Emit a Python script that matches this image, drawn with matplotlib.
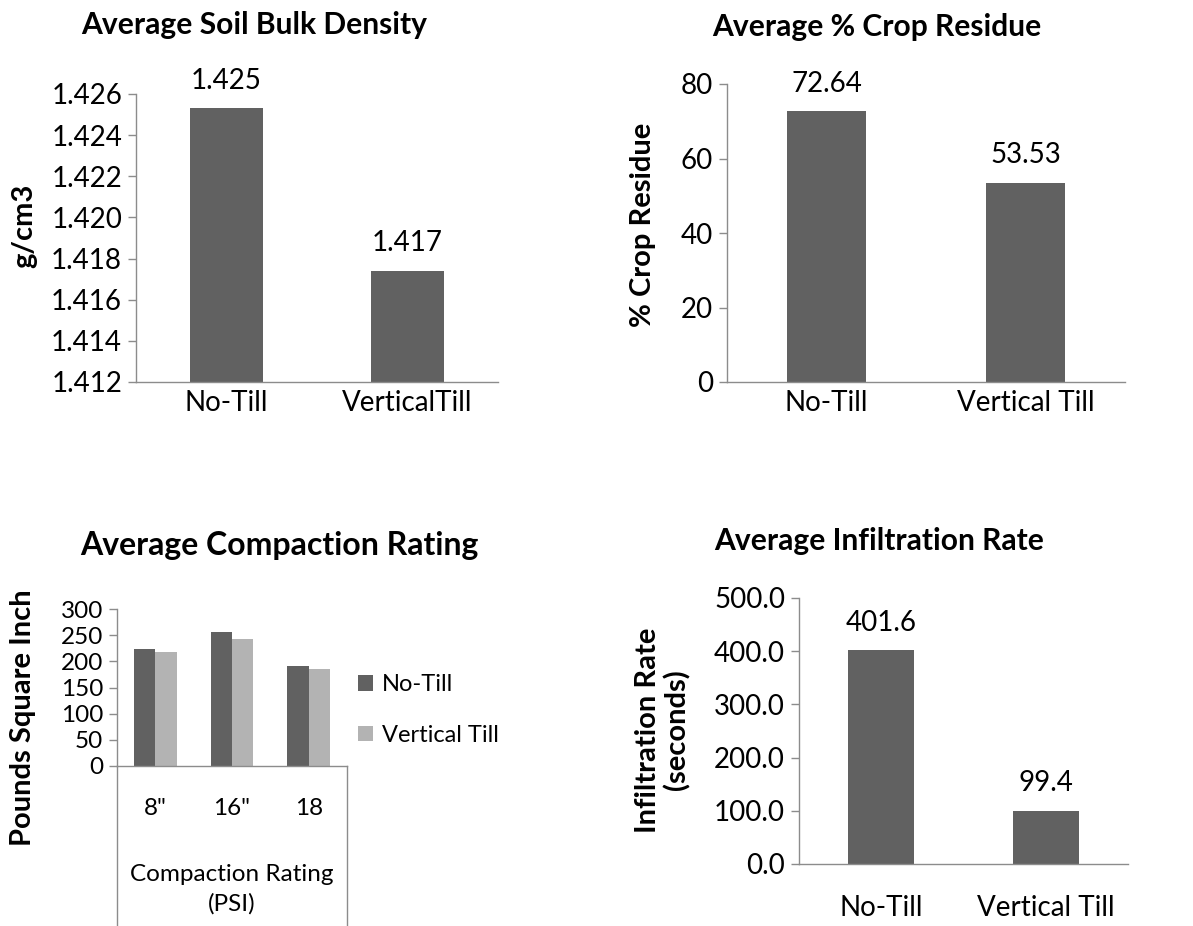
import matplotlib
matplotlib.use("Agg")
import matplotlib.pyplot as plt
from matplotlib.ticker import MultipleLocator, FormatStrFormatter
from matplotlib.lines import Line2D

plt.rcParams['font.family'] = ['Lato', 'DejaVu Sans']

# データ
tillage = ["No-Till", "Vertical Till"]
bulk_labels = ["No-Till", "VerticalTill"]
bulk_density = [1.4253, 1.4174]
crop_residue = [72.64, 53.53]
depths = ['8"', '16"', '18']
compaction_notill = [223, 256, 191]
compaction_vertical = [217, 243, 186]
infiltration = [401.6, 99.4]

DARK = "#616161"
LIGHT = "#b3b3b3"
SPINE = "#8c8c8c"
W, H = 1193, 926
FS = 20     # 目盛・ラベル
FS3 = 17.5  # 左下のグラフ
TFS = 21.6  # タイトル
YFS = 21    # 縦軸タイトル

fig = plt.figure(figsize=(W / 100, H / 100), dpi=100)


def add_ax(left, top, right, bottom, fs=FS):
    ax = fig.add_axes([left / W, 1 - bottom / H, (right - left) / W, (bottom - top) / H])
    ax.spines["top"].set_visible(False)
    ax.spines["right"].set_visible(False)
    for s in ("left", "bottom"):
        ax.spines[s].set_color(SPINE)
        ax.spines[s].set_linewidth(1.0)
    ax.tick_params(axis="y", direction="out", length=6, width=1.0, color=SPINE, labelsize=fs, pad=4)
    ax.tick_params(axis="x", length=0, labelsize=fs)
    return ax


def ftext(x, y, s, **kw):
    fig.text(x / W, 1 - y / H, s, ha="center", va="center", **kw)


def bar_labels(ax, bars, fmt):
    for b in bars:
        ax.annotate(fmt.format(b.get_height()), (b.get_x() + b.get_width() / 2, b.get_height()),
                    xytext=(0, 20), textcoords="offset points", ha="center", va="center", fontsize=FS)


# 左上: 容積密度
ax1 = add_ax(136, 94, 498, 382)
b1 = ax1.bar(range(2), bulk_density, width=0.4, color=DARK)
ax1.set_xlim(-0.5, 1.5)
ax1.set_ylim(1.412, 1.426)
ax1.yaxis.set_major_locator(MultipleLocator(0.002))
ax1.yaxis.set_major_formatter(FormatStrFormatter("%.3f"))
ax1.set_xticks(range(2), bulk_labels)
ax1.tick_params(axis="x", pad=6)
bar_labels(ax1, b1, "{:.3f}")
ftext(254, 25, "Average Soil Bulk Density", fontsize=TFS, fontweight="bold")
ftext(24, 226, "g/cm3", fontsize=YFS, fontweight="bold", rotation=90)

# 右上: 残渣率
ax2 = add_ax(727, 84, 1125, 382)
b2 = ax2.bar(range(2), crop_residue, width=0.4, color=DARK)
ax2.set_xlim(-0.5, 1.5)
ax2.set_ylim(0, 80)
ax2.yaxis.set_major_locator(MultipleLocator(20))
ax2.set_xticks(range(2), tillage)
ax2.tick_params(axis="x", pad=6)
bar_labels(ax2, b2, "{:.2f}")
ftext(877, 27, "Average % Crop Residue", fontsize=TFS, fontweight="bold")
ftext(643, 225, "% Crop Residue", fontsize=YFS, fontweight="bold", rotation=90)

# 左下: 締固め
ax3 = add_ax(117, 609, 347, 766, fs=FS3)
x = range(len(depths))
ax3.bar([i - 0.14 for i in x], compaction_notill, width=0.28, color=DARK, label="No-Till")
ax3.bar([i + 0.14 for i in x], compaction_vertical, width=0.28, color=LIGHT, label="Vertical Till")
ax3.set_xlim(-0.5, 2.5)
ax3.set_ylim(0, 300)
ax3.yaxis.set_major_locator(MultipleLocator(50))
ax3.set_xticks(list(x), depths)
ax3.tick_params(axis="x", pad=23)
for xa in (0, 1):
    ax3.add_line(Line2D([xa, xa], [0, -1.02], transform=ax3.transAxes, color=SPINE, lw=1.0, clip_on=False))
ftext(232, 889, "Compaction Rating\n(PSI)", fontsize=FS3, linespacing=1.45)
ftext(279, 545, "Average Compaction Rating", fontsize=23, fontweight="bold")
ftext(23, 718, "Pounds Square Inch", fontsize=YFS, fontweight="bold", rotation=90)
ax3.legend(loc="center left", bbox_to_anchor=(358 / W, 1 - 710 / H), bbox_transform=fig.transFigure,
           frameon=False, fontsize=17, handlelength=0.65, handleheight=0.65, handletextpad=0.35,
           labelspacing=1.25, borderpad=0, borderaxespad=0)

# 右下: 浸透速度
ax4 = add_ax(799, 598, 1128, 864)
b4 = ax4.bar(range(2), infiltration, width=0.4, color=DARK)
ax4.set_xlim(-0.5, 1.5)
ax4.set_ylim(0, 500)
ax4.yaxis.set_major_locator(MultipleLocator(100))
ax4.yaxis.set_major_formatter(FormatStrFormatter("%.1f"))
ax4.set_xticks(range(2), tillage)
ax4.tick_params(axis="x", pad=22)
bar_labels(ax4, b4, "{:.1f}")
ftext(879, 541, "Average Infiltration Rate", fontsize=TFS, fontweight="bold")
ftext(663, 730, "Infiltration Rate\n(seconds)", fontsize=YFS, fontweight="bold", rotation=90, linespacing=1.1)

fig.savefig("out.png", dpi=100)
